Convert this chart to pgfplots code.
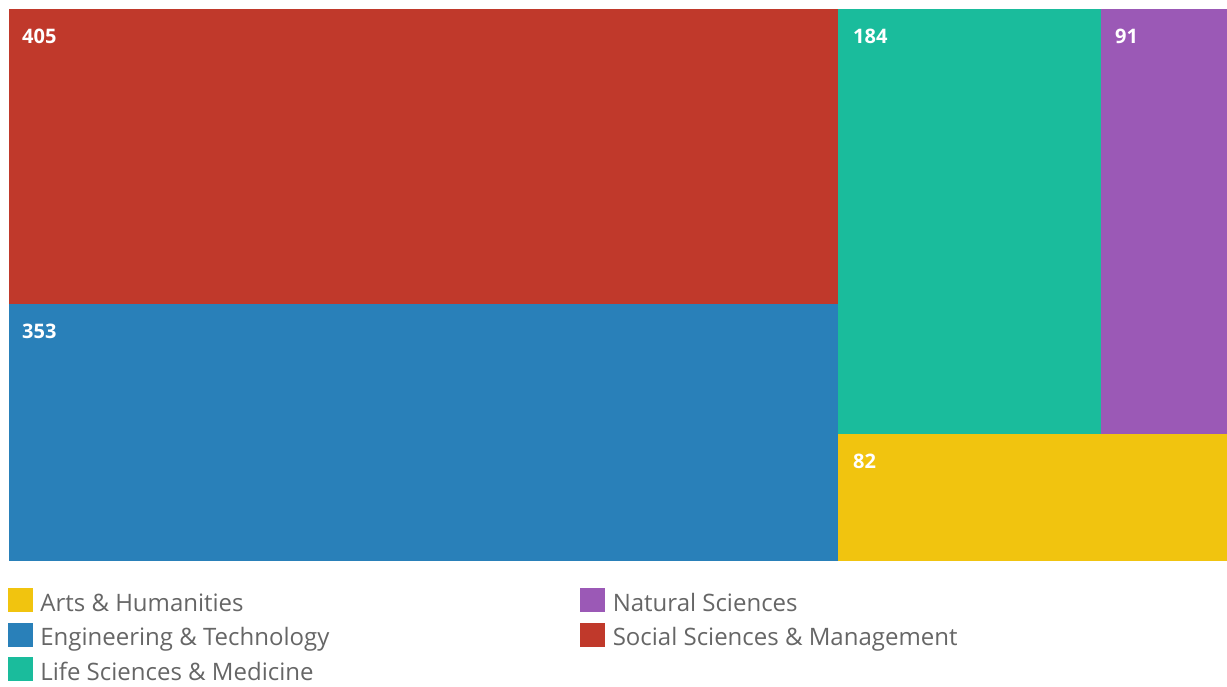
\documentclass[border=0pt]{standalone}
\usepackage{pgfplots}
\pgfplotsset{compat=1.18}
\usepackage{fontspec}
\setmainfont{Open Sans}
\definecolor{cred}{HTML}{C0392B}
\definecolor{cblue}{HTML}{2980B9}
\definecolor{cteal}{HTML}{1ABC9C}
\definecolor{cpurple}{HTML}{9B59B6}
\definecolor{cyellow}{HTML}{F1C40F}
\definecolor{legtext}{HTML}{666666}
\begin{document}
\begin{tikzpicture}
\useasboundingbox (-9pt,-126pt) rectangle (1218pt,561pt);
\begin{axis}[
  anchor=south west, at={(0pt,0pt)},
  scale only axis, width=1218pt, height=552pt,
  xmin=0, xmax=1218, ymin=0, ymax=552,
  hide axis, clip=false,
  legend columns=2,
  legend cell align=left,
  legend style={at={(0,0)}, anchor=north west, xshift=-1pt, yshift=-27pt,
    draw=none, fill=none, inner sep=0pt, outer sep=0pt,
    font=\fontsize{24}{28}\selectfont, text=legtext,
    nodes={inner sep=0pt, text height=18pt, text depth=6pt},
    /tikz/every odd column/.append style={column sep=8pt},
    /tikz/every even column/.append style={column sep=7pt},
    row sep=5.5pt},
  legend image code/.code={\fill[#1] (0pt,-6pt) rectangle (24pt,17pt);},
]
% treemap tiles (values: Social 405, Engineering 353, Life 184, Natural 91, Arts 82)
\addplot[fill=cred, draw=none, forget plot] coordinates {(0,257) (829,257) (829,552) (0,552)} -- cycle;
\addplot[fill=cblue, draw=none, forget plot] coordinates {(0,0) (828.5,0) (828.5,257) (0,257)} -- cycle;
\addplot[fill=cteal, draw=none, forget plot] coordinates {(829,127) (1092,127) (1092,552) (829,552)} -- cycle;
\addplot[fill=cpurple, draw=none, forget plot] coordinates {(1092,127) (1218,127) (1218,552) (1092,552)} -- cycle;
\addplot[fill=cyellow, draw=none, forget plot] coordinates {(829,0) (1218,0) (1218,127) (829,127)} -- cycle;
% value labels
\addplot[draw=none, mark=none, forget plot, nodes near coords, point meta=explicit symbolic,
  every node near coord/.append style={anchor=base west, inner sep=0pt, text=white,
    font=\bfseries\fontsize{20}{24}\selectfont}]
  coordinates {(13,517)[405] (13,222)[353] (844,517)[184] (1106,517)[91] (844,92)[82]};
\addlegendimage{cyellow}\addlegendentry{\makebox[533pt][l]{Arts \& Humanities}}
\addlegendimage{cpurple}\addlegendentry{Natural Sciences}
\addlegendimage{cblue}\addlegendentry{\makebox[533pt][l]{Engineering \& Technology}}
\addlegendimage{cred}\addlegendentry{Social Sciences \& Management}
\addlegendimage{cteal}\addlegendentry{\makebox[533pt][l]{Life Sciences \& Medicine}}
\end{axis}
\end{tikzpicture}
\end{document}
